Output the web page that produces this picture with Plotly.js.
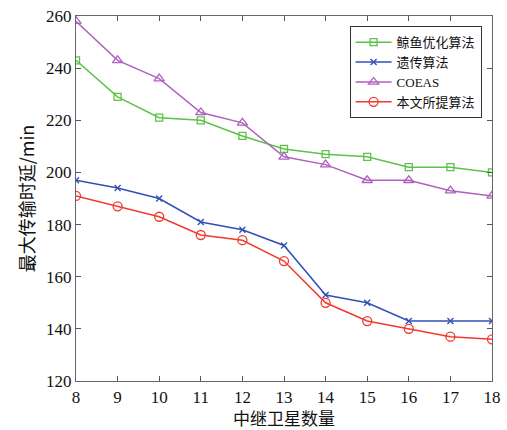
<!DOCTYPE html>
<html>
<head>
<meta charset="utf-8">
<script src="https://cdn.plot.ly/plotly-3.0.1.min.js"></script>
<style>body{margin:0;padding:0;background:#fff;}#chart{width:507px;height:430px;}</style>
</head>
<body>
<div id="chart"></div>
<script>
const xCounts = [8, 9, 10, 11, 12, 13, 14, 15, 16, 17, 18];
const whaleVals = [243, 229, 221, 220, 214, 209, 207, 206, 202, 202, 200];
const geneticVals = [197, 194, 190, 181, 178, 172, 153, 150, 143, 143, 143];
const coeasVals = [258, 243, 236, 223, 219, 206, 203, 197, 197, 193, 191];
const proposedVals = [191, 187, 183, 176, 174, 166, 150, 143, 140, 137, 136];
const seriesNames = ['鲸鱼优化算法', '遗传算法', 'COEAS', '本文所提算法'];
const xTicks = [8, 9, 10, 11, 12, 13, 14, 15, 16, 17, 18];
const yTicks = [120, 140, 160, 180, 200, 220, 240, 260];

function mk(y, name, color, symbol, size) {
  return {
    x: xCounts, y: y, name: name, type: 'scatter', mode: 'lines+markers',
    line: {color: color, width: 1.5},
    marker: {symbol: symbol, size: size, color: color, line: {color: color, width: 1.3}}
  };
}
const data = [
  mk(whaleVals, seriesNames[0], '#5cc24a', 'square-open', 7),
  mk(geneticVals, seriesNames[1], '#3050b8', 'x-thin-open', 6),
  mk(coeasVals, seriesNames[2], '#b060c0', 'triangle-up-open', 9),
  mk(proposedVals, seriesNames[3], '#f03a30', 'circle-open', 9)
];
const axisFont = {family: '"Liberation Serif", "Times New Roman", serif', size: 17, color: '#111'};
const layout = {
  width: 507, height: 430,
  margin: {l: 76, r: 15, t: 16, b: 49},
  paper_bgcolor: '#fff', plot_bgcolor: '#fff',
  showlegend: true,
  legend: {
    x: 0.975, y: 0.972, xanchor: 'right', yanchor: 'top',
    bordercolor: '#333', borderwidth: 1, bgcolor: '#fff',
    font: {family: '"Liberation Serif", "Noto Sans CJK SC", serif', size: 13, color: '#111'},
    tracegroupgap: 0, itemwidth: 36
  },
  xaxis: {
    range: [8, 18], tickvals: xTicks, ticktext: xTicks.map(String),
    ticks: 'inside', ticklen: 5, tickcolor: '#555', mirror: 'ticks',
    showline: true, linecolor: '#666', linewidth: 1.2, showgrid: false, zeroline: false,
    tickfont: axisFont,
    title: {text: '中继卫星数量', font: {family: '"Noto Sans CJK SC", serif', size: 17, color: '#111'}, standoff: 8}
  },
  yaxis: {
    range: [120, 260], tickvals: yTicks, ticktext: yTicks.map(String),
    ticks: 'inside', ticklen: 5, tickcolor: '#555', mirror: 'ticks',
    showline: true, linecolor: '#666', linewidth: 1.2, showgrid: false, zeroline: false,
    tickfont: axisFont,
    title: {text: '最大传输时延/min', font: {family: '"Noto Sans CJK SC", serif', size: 18, color: '#111'}, standoff: 6}
  }
};
Plotly.newPlot('chart', data, layout, {displayModeBar: false, staticPlot: true});
</script>
</body>
</html>
